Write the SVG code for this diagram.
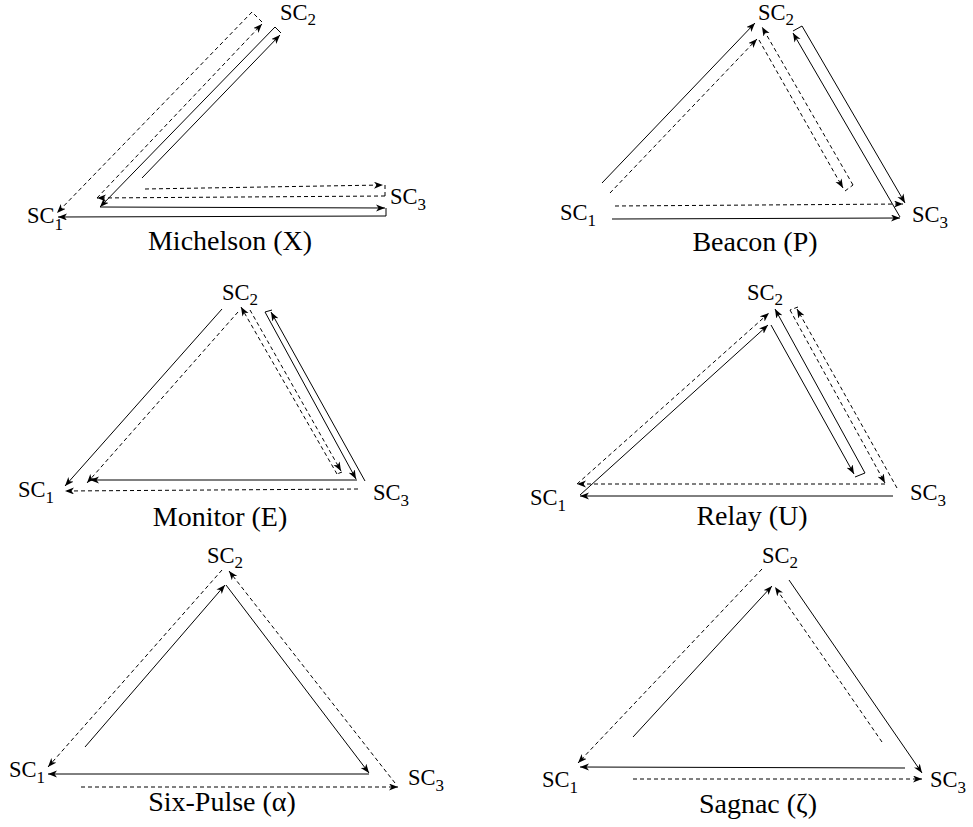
<svg xmlns="http://www.w3.org/2000/svg" width="973" height="827" viewBox="0 0 973 827">
<defs>
<marker id="ah" markerUnits="userSpaceOnUse" markerWidth="10" markerHeight="8" refX="9" refY="3.5" orient="auto">
<path d="M0,0 L9,3.5 L0,7 L2.5,3.5 z" fill="#000"/>
</marker>
<style>
.s{fill:none;stroke:#000;stroke-width:1}
.d{fill:none;stroke:#000;stroke-width:1;stroke-dasharray:4 3}
.a{marker-end:url(#ah)}
.sc{font-family:"Liberation Serif","Times New Roman",serif;font-size:22.5px;fill:#000}
.sub{font-size:17px}
.cap{font-family:"Liberation Serif","Times New Roman",serif;font-size:28px;fill:#000;text-anchor:middle}
</style>
</defs>
<rect width="973" height="827" fill="#fff"/>

<!-- Michelson -->
<g id="michelson">
<g id="m-sc1"><text class="sc" x="27" y="223">SC<tspan class="sub" dy="7">1</tspan></text></g>
<g id="m-sc2"><text class="sc" x="280" y="20">SC<tspan class="sub" dy="5">2</tspan></text></g>
<g id="m-sc3"><text class="sc" x="390" y="204">SC<tspan class="sub" dy="6">3</tspan></text></g>
<g id="m-links">
<path class="s a" d="M142,178 L280,35"/>
<path class="s" d="M281,33 L275,27"/>
<path class="s a" d="M275,27 L100,207"/>
<path class="s a" d="M100,207 L385,208"/>
<path class="s" d="M386,208 L386,216"/>
<path class="s a" d="M386,216 L58,217"/>
<path class="d a" d="M145,189 L383,185"/>
<path class="d" d="M385,185 L385,196"/>
<path class="d a" d="M385,196 L97,198"/>
<path class="d a" d="M97,198 L262,24"/>
<path class="d" d="M262,22 L252,12"/>
<path class="d a" d="M252,12 L57,213"/>
</g>
<text class="cap" x="230" y="250">Michelson (X)</text>
</g>

<!-- Beacon -->
<g id="beacon">
<g id="b-sc1"><text class="sc" x="560" y="220">SC<tspan class="sub" dy="6">1</tspan></text></g>
<g id="b-sc2"><text class="sc" x="758" y="20">SC<tspan class="sub" dy="5">2</tspan></text></g>
<g id="b-sc3"><text class="sc" x="912" y="222">SC<tspan class="sub" dy="6">3</tspan></text></g>
<g id="b-links">
<path class="s a" d="M602,183 L755,23"/>
<path class="d a" d="M610,193 L757,39"/>
<path class="d a" d="M759,40 L843,188"/>
<path class="d" d="M845,191 L853,185"/>
<path class="d a" d="M853,185 L762,27"/>
<path class="s a" d="M900,217 L793,33"/>
<path class="s" d="M793,31 L802,26"/>
<path class="s a" d="M802,26 L905,203"/>
<path class="d a" d="M615,206 L903,204"/>
<path class="s a" d="M612,219 L900,218"/>
</g>
<text class="cap" x="755" y="251">Beacon (P)</text>
</g>

<!-- Monitor -->
<g id="monitor">
<g id="e-sc1"><text class="sc" x="18" y="497">SC<tspan class="sub" dy="6">1</tspan></text></g>
<g id="e-sc2"><text class="sc" x="222" y="300">SC<tspan class="sub" dy="5">2</tspan></text></g>
<g id="e-sc3"><text class="sc" x="373" y="500">SC<tspan class="sub" dy="6">3</tspan></text></g>
<g id="e-links">
<path class="s a" d="M222,309 L65,486"/>
<path class="d a" d="M250,310 L341,471"/>
<path class="d" d="M342,472 L337,474"/>
<path class="d a" d="M337,474 L241,307"/>
<path class="d a" d="M238,312 L87,483"/>
<path class="s a" d="M365,481 L271,312"/>
<path class="s" d="M272,310 L265,312"/>
<path class="s a" d="M265,312 L356,479"/>
<path class="s a" d="M357,480 L90,480"/>
<path class="d a" d="M358,489 L65,491"/>
</g>
<text class="cap" x="220" y="526">Monitor (E)</text>
</g>

<!-- Relay -->
<g id="relay">
<g id="u-sc1"><text class="sc" x="530" y="505">SC<tspan class="sub" dy="6">1</tspan></text></g>
<g id="u-sc2"><text class="sc" x="747" y="300">SC<tspan class="sub" dy="5">2</tspan></text></g>
<g id="u-sc3"><text class="sc" x="910" y="500">SC<tspan class="sub" dy="6">3</tspan></text></g>
<g id="u-links">
<path class="s a" d="M893,496 L580,496"/>
<path class="s a" d="M580,495 L768,325"/>
<path class="s a" d="M771,325 L854,474"/>
<path class="s" d="M855,477 L865,473"/>
<path class="s a" d="M865,473 L775,309"/>
<path class="d a" d="M897,488 L797,309"/>
<path class="d" d="M798,307 L790,310"/>
<path class="d a" d="M790,310 L885,483"/>
<path class="d a" d="M885,484 L577,484"/>
<path class="d a" d="M577,484 L769,313"/>
</g>
<text class="cap" x="752" y="525">Relay (U)</text>
</g>

<!-- Six-Pulse -->
<g id="sixpulse">
<g id="a-sc1"><text class="sc" x="9" y="777">SC<tspan class="sub" dy="6">1</tspan></text></g>
<g id="a-sc2"><text class="sc" x="207" y="563">SC<tspan class="sub" dy="5">2</tspan></text></g>
<g id="a-sc3"><text class="sc" x="408" y="785">SC<tspan class="sub" dy="6">3</tspan></text></g>
<g id="a-links">
<path class="s a" d="M85,747 L225,585"/>
<path class="s a" d="M226,585 L369,773"/>
<path class="s a" d="M369,774 L48,774"/>
<path class="d a" d="M222,570 L48,767"/>
<path class="d a" d="M395,783 L229,571"/>
<path class="d a" d="M81,787 L398,787"/>
</g>
<text class="cap" x="222" y="811">Six-Pulse (α)</text>
</g>

<!-- Sagnac -->
<g id="sagnac">
<g id="z-sc1"><text class="sc" x="542" y="787">SC<tspan class="sub" dy="6">1</tspan></text></g>
<g id="z-sc2"><text class="sc" x="762" y="563">SC<tspan class="sub" dy="5">2</tspan></text></g>
<g id="z-sc3"><text class="sc" x="930" y="787">SC<tspan class="sub" dy="6">3</tspan></text></g>
<g id="z-links">
<path class="s a" d="M633,737 L772,586"/>
<path class="s a" d="M789,580 L922,773"/>
<path class="s a" d="M905,768 L580,767"/>
<path class="d a" d="M762,569 L578,763"/>
<path class="d a" d="M882,742 L775,587"/>
<path class="d a" d="M633,779 L922,779"/>
</g>
<text class="cap" x="758" y="813">Sagnac (ζ)</text>
</g>
</svg>
